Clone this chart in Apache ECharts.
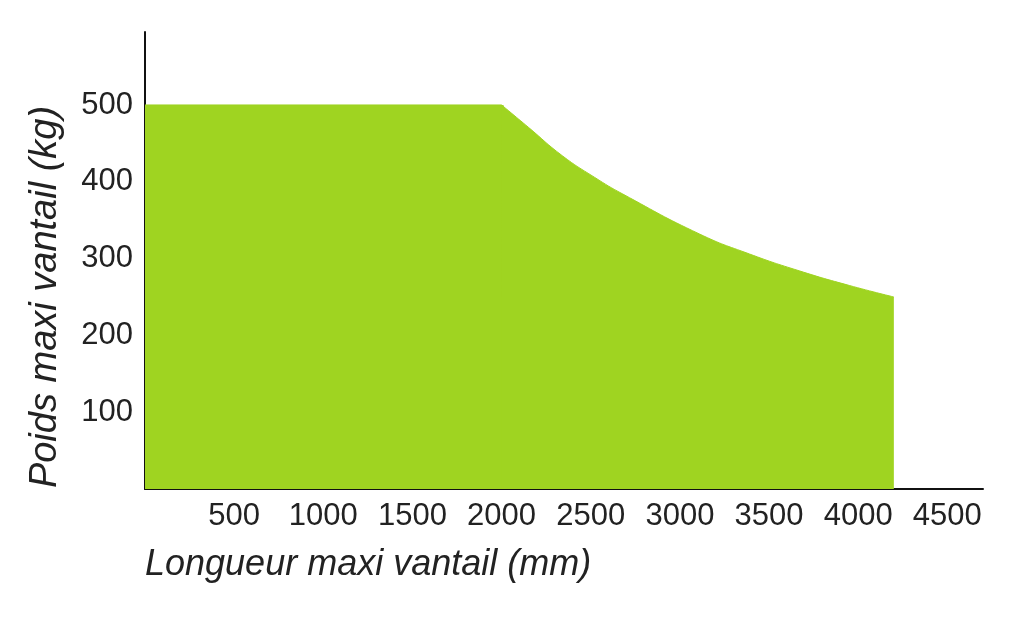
<!DOCTYPE html>
<html>
<head>
<meta charset="utf-8">
<script src="https://cdn.jsdelivr.net/npm/echarts@6/dist/echarts.min.js"></script>
<style>html,body{margin:0;padding:0;background:#fff;}#c{width:1024px;height:626px;}</style>
</head>
<body>
<div id="c"></div>
<script>
var xTitle = 'Longueur maxi vantail (mm)';
var yTitle = 'Poids maxi vantail (kg)';
var plateauLength = [0, 2000];
var plateauWeight = [500, 500];
var curveLength = [2000, 2150, 2340, 2520, 2680, 3110, 3390, 3670, 3950, 4200];
var curveWeight = [500, 471, 434, 406, 384, 332, 306, 284, 265, 250];

var green = '#9fd421';
var font = '"Liberation Sans", Arial, sans-serif';
function pairs(a, b) { return a.map(function (v, i) { return [v, b[i]]; }); }
function plain(v) { return String(v); }

var chart = echarts.init(document.getElementById('c'), null, {renderer: 'canvas'});
chart.setOption({
  animation: false,
  backgroundColor: '#fff',
  grid: {left: 145, right: 41, top: 32, bottom: 137, containLabel: false},
  xAxis: {
    type: 'value', min: 0, max: 4700, interval: 500,
    axisLine: {show: true, onZero: false, lineStyle: {color: '#111', width: 2}},
    axisTick: {show: false},
    splitLine: {show: false},
    axisLabel: {formatter: plain, showMinLabel: false, showMaxLabel: false, margin: 12, fontSize: 31, fontFamily: font, color: '#222'}
  },
  yAxis: {
    type: 'value', min: 0, max: 595, interval: 100,
    axisLine: {show: true, onZero: false, lineStyle: {color: '#111', width: 2}},
    axisTick: {show: false},
    splitLine: {show: false},
    axisLabel: {formatter: plain, showMinLabel: false, showMaxLabel: false, margin: 12, fontSize: 31, fontFamily: font, color: '#222'}
  },
  graphic: [
    {type: 'text', left: 145, top: 547, style: {text: xTitle, fontSize: 36, fontStyle: 'italic', fontFamily: font, fill: '#222'}},
    {type: 'text', x: 45, y: 297, rotation: Math.PI / 2, style: {text: yTitle, fontSize: 38, fontStyle: 'italic', fontFamily: font, fill: '#222', align: 'center', verticalAlign: 'middle'}}
  ],
  series: [
    {type: 'line', data: pairs(plateauLength, plateauWeight), showSymbol: false, smooth: false,
     lineStyle: {width: 1, color: green},
     areaStyle: {color: green, opacity: 1, shadowColor: green, shadowOffsetX: 2, shadowBlur: 0}, z: 1},
    {type: 'line', data: pairs(curveLength, curveWeight), showSymbol: false, smooth: 0.5,
     lineStyle: {width: 1, color: green}, areaStyle: {color: green, opacity: 1}, z: 1}
  ]
});
</script>
</body>
</html>
